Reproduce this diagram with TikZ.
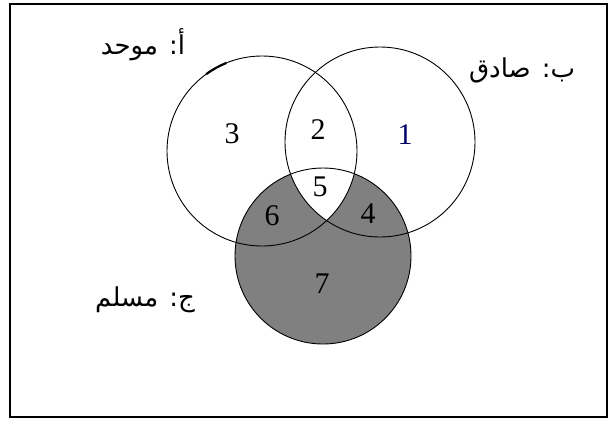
\documentclass[tikz,border=0pt]{standalone}
\usepackage{fontspec}
\setmainfont{Liberation Serif}
\newfontfamily\arabicfont[Script=Arabic]{DejaVu Sans}
\TeXXeTstate=1
\usetikzlibrary{positioning}

\begin{document}
\begin{tikzpicture}[x=1pt, y=-1pt,
  setline/.style={draw=black, line width=0.9pt},
  num/.style={font=\fontsize{30}{30}\selectfont, inner sep=0pt},
  lbl/.style={font=\arabicfont\fontsize{26}{28}\selectfont, inner sep=0pt}
]
\useasboundingbox (0,0) rectangle (612,421);
\draw[line width=2pt] (10,4) rectangle (607,417);
% set centres
\coordinate (cA) at (262,151);
\coordinate (cB) at (380,142);
\coordinate (cC) at (323,256);
% shading of C, apart from the common part
\fill[black!50] (cC) circle[radius=88];
\begin{scope}
  \clip (cA) circle[radius=95];
  \clip (cB) circle[radius=95];
  \fill[white] (cC) circle[radius=88];
\end{scope}
\draw[setline] (cA) circle[radius=95];
\draw[setline] (cB) circle[radius=95];
\draw[setline] (cC) circle[radius=88];
\draw[line width=2.2pt] ([shift={(-112:95)}]cA) arc[start angle=-112, end angle=-126, radius=95];
% region numbers
\node[num] (n3) at (232,134) {3};
\node[num] (n2) at (318,130) {2};
\node[num, text=blue!40!black] (n1) at (405,135) {1};
\node[num] (n5) at (320,187) {5};
\node[num] (n6) at (272,216) {6};
\node[num] (n4) at (368,214) {4};
\node[num] (n7) at (322,284) {7};
% set names
\node[lbl] (la) at (143,45) {\beginR أ: موحد\endR};
\node[lbl] (lb) at (522,70) {\beginR ب: صادق\endR};
\node[lbl] (lc) at (145,300) {\beginR ج: مسلم\endR};
\end{tikzpicture}
\end{document}
